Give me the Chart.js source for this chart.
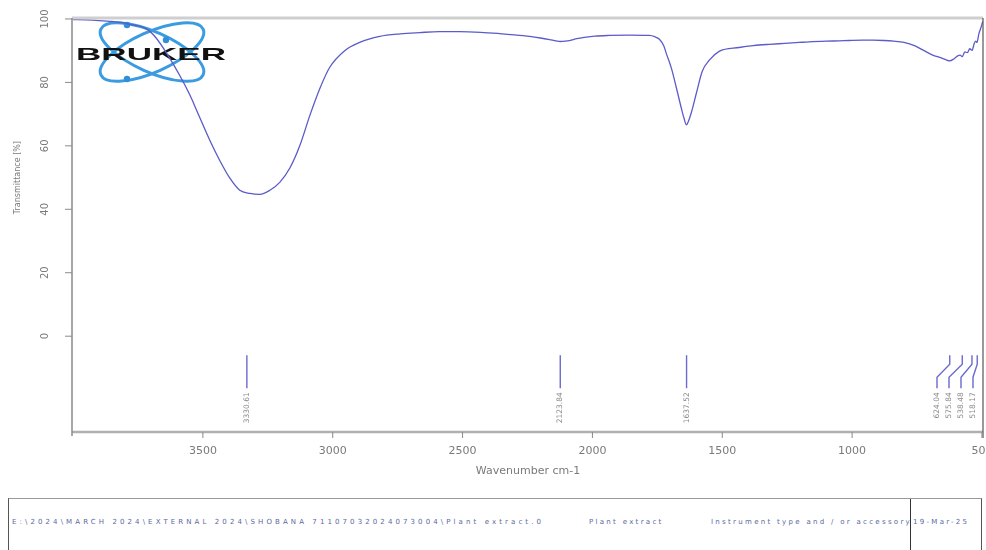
<!DOCTYPE html>
<html>
<head>
<meta charset="utf-8">
<script src="https://cdn.jsdelivr.net/npm/chart.js@4"></script>
<style>
  html, body { margin: 0; padding: 0; background: #fff; }
  #wrap { position: relative; width: 986px; height: 550px; overflow: hidden; }
  #chart { position: absolute; left: 0; top: 0; }
  #footer {
    position: absolute; left: 8px; top: 498px; width: 974px; height: 60px;
    border: 1.5px solid #555; border-top-color: #999; box-sizing: border-box;
  }
  #footer .div { position: absolute; left: 901px; top: 0; bottom: 0; border-left: 1.5px solid #333; }
  #footer span {
    position: absolute; top: 19px; font: 7px "DejaVu Sans", sans-serif;
    letter-spacing: 2.3px; color: #5a68a0; white-space: nowrap;
  }
  #footer span.path { letter-spacing: 3.1px; }
</style>
</head>
<body>
<div id="wrap">
  <canvas id="chart" width="986" height="490"></canvas>
  <div id="footer">
    <div class="div"></div>
    <span class="path" style="left:3px">E:\2024\MARCH 2024\EXTERNAL 2024\SHOBANA 71107032024073004\Plant extract.0</span>
    <span style="left:580px">Plant extract</span>
    <span style="left:702px">Instrument type and / or accessory</span>
    <span style="left:904px">19-Mar-25</span>
  </div>
</div>
<script>
// spectrum
const wavenumbers = [4000, 3950, 3900, 3850, 3800, 3781, 3750, 3715, 3680, 3638, 3588, 3550, 3523, 3473, 3435,
  3396, 3358, 3319, 3281, 3242, 3204, 3165, 3127, 3088, 3050, 3012, 2954, 2896, 2819, 2740, 2665, 2590, 2512,
  2430, 2358, 2300, 2242, 2200, 2165, 2140, 2124, 2105, 2088, 2060, 2031, 1990, 1935, 1860, 1781, 1760, 1742,
  1725, 1715, 1696, 1677, 1658, 1647, 1638, 1630, 1619, 1600, 1577, 1550, 1512, 1435, 1380, 1319, 1260, 1204,
  1165, 1100, 1050, 1012, 960, 920, 877, 840, 800, 760, 723, 690, 660, 640, 624, 610, 595, 584, 576, 566, 556,
  547, 538, 530, 524, 519, 512, 505, 497];
const transmittance = [99.8, 99.7, 99.5, 99.2, 98.7, 98.3, 97.8, 96.8, 94.0, 89.0, 82.0, 76.0, 71.0, 61.7, 55.4,
  49.8, 46.0, 45.0, 44.7, 46.0, 48.5, 53.0, 60.0, 69.6, 78.0, 84.7, 90.0, 92.6, 94.5, 95.3, 95.7, 96.0, 96.0,
  95.8, 95.4, 95.0, 94.5, 94.0, 93.5, 93.1, 92.9, 93.0, 93.2, 93.8, 94.2, 94.6, 94.8, 94.9, 94.8, 94.4, 93.6,
  91.5, 89.0, 84.5, 78.4, 72.0, 68.6, 66.6, 67.8, 70.5, 76.5, 83.5, 87.0, 89.8, 91.0, 91.6, 92.0, 92.3, 92.6,
  92.8, 93.0, 93.1, 93.2, 93.3, 93.3, 93.2, 93.0, 92.6, 91.6, 90.0, 88.6, 87.8, 87.2, 86.8, 87.3, 88.3, 88.6,
  88.1, 89.6, 89.4, 90.6, 90.1, 92.2, 93.0, 92.6, 95.3, 97.0, 99.2];

const xTicks = [3500, 3000, 2500, 2000, 1500, 1000, 500];
const yTicks = [0, 20, 40, 60, 80, 100];
const peaks = [3330.61, 2123.84, 1637.52, 624.04, 575.84, 538.48, 518.17];

const xTitle = "Wavenumber cm-1";
const yTitle = "Transmittance [%]";

const lineColor = "#5b5bc9";
const axisGrey = "#8a8a8a";
const textGrey = "#7a7a7a";

const drawLogo = {
    id: "logo",
    beforeDatasetsDraw(chart) {
        const ctx = chart.ctx;
        ctx.save();
        ctx.strokeStyle = "#3b9be0";
        ctx.lineWidth = 3;
        ctx.beginPath();
        ctx.ellipse(152, 52, 56, 20, 0.42, 0, Math.PI * 2);
        ctx.stroke();
        ctx.beginPath();
        ctx.ellipse(152, 52, 56, 20, -0.42, 0, Math.PI * 2);
        ctx.stroke();
        ctx.fillStyle = "#2f8fd8";
        [[127, 25], [127, 79], [166, 40]].forEach(([x, y]) => {
            ctx.beginPath();
            ctx.arc(x, y, 3.2, 0, Math.PI * 2);
            ctx.fill();
        });
        ctx.font = "bold 17px 'Liberation Sans', sans-serif";
        const w = ctx.measureText("BRUKER").width;
        ctx.translate(76, 60);
        ctx.scale(150 / w, 1);
        ctx.fillStyle = "#111";
        ctx.textBaseline = "alphabetic";
        ctx.fillText("BRUKER", 0, 0);
        ctx.restore();
    },
};

const drawAxes = {
    id: "axes",
    afterDraw(chart) {
        const ctx = chart.ctx;
        const area = chart.chartArea;
        const xs = chart.scales.x;
        const ys = chart.scales.y;
        ctx.save();

        // frame
        ctx.strokeStyle = "#cfcfcf";
        ctx.lineWidth = 3;
        ctx.beginPath();
        ctx.moveTo(area.left, area.top);
        ctx.lineTo(area.right, area.top);
        ctx.stroke();
        ctx.strokeStyle = "#b0b0b0";
        ctx.lineWidth = 2.5;
        ctx.beginPath();
        ctx.moveTo(area.left, area.bottom);
        ctx.lineTo(area.right, area.bottom);
        ctx.stroke();
        ctx.strokeStyle = axisGrey;
        ctx.lineWidth = 1.5;
        ctx.beginPath();
        ctx.moveTo(area.left, area.top);
        ctx.lineTo(area.left, area.bottom + 4);
        ctx.stroke();
        ctx.strokeStyle = "#555";
        ctx.lineWidth = 1.2;
        ctx.beginPath();
        ctx.moveTo(area.right, area.top);
        ctx.lineTo(area.right, area.bottom + 6);
        ctx.stroke();

        // x ticks
        ctx.strokeStyle = axisGrey;
        ctx.lineWidth = 1;
        ctx.fillStyle = textGrey;
        ctx.font = "11px 'DejaVu Sans', sans-serif";
        ctx.textAlign = "center";
        ctx.textBaseline = "middle";
        xTicks.forEach((v) => {
            const px = xs.getPixelForValue(v);
            ctx.beginPath();
            ctx.moveTo(px, area.bottom);
            ctx.lineTo(px, area.bottom + 6);
            ctx.stroke();
            ctx.fillText(String(v), px, 451);
        });
        ctx.fillText(xTitle, 528, 471);

        // y ticks, rotated labels
        yTicks.forEach((v) => {
            const py = ys.getPixelForValue(v);
            ctx.beginPath();
            ctx.moveTo(area.left - 7, py);
            ctx.lineTo(area.left, py);
            ctx.stroke();
            ctx.save();
            ctx.translate(45, py);
            ctx.rotate(-Math.PI / 2);
            ctx.font = "10px 'DejaVu Sans', sans-serif";
            ctx.fillText(String(v), 0, 0);
            ctx.restore();
        });
        ctx.save();
        ctx.translate(18, (ys.getPixelForValue(0) + ys.getPixelForValue(100)) / 2);
        ctx.rotate(-Math.PI / 2);
        ctx.font = "8px 'DejaVu Sans', sans-serif";
        ctx.fillText(yTitle, 0, 0);
        ctx.restore();

        // peak markers
        const top = ys.getPixelForValue(-6);
        const bottom = ys.getPixelForValue(-16.4);
        const pxs = peaks.map((p) => xs.getPixelForValue(p));
        const lx = pxs.slice();
        for (let i = pxs.length - 1; i >= 0; i--) {
            let want = Math.min(pxs[i], area.right - 10);
            if (i < pxs.length - 1 && lx[i + 1] - want < 12) want = lx[i + 1] - 12;
            lx[i] = want;
        }
        ctx.strokeStyle = "#6a6ad0";
        ctx.lineWidth = 1.4;
        pxs.forEach((px, i) => {
            ctx.beginPath();
            if (Math.abs(px - lx[i]) < 0.5) {
                ctx.moveTo(px, top);
                ctx.lineTo(px, bottom);
            } else {
                ctx.moveTo(px, top);
                ctx.lineTo(px, top + 9);
                ctx.lineTo(lx[i], top + 22);
                ctx.lineTo(lx[i], bottom);
            }
            ctx.stroke();
            ctx.save();
            ctx.translate(lx[i], bottom + 4);
            ctx.rotate(-Math.PI / 2);
            ctx.fillStyle = "#8a8a8a";
            ctx.font = "7.5px 'DejaVu Sans', sans-serif";
            ctx.textAlign = "right";
            ctx.textBaseline = "middle";
            ctx.fillText(peaks[i].toFixed(2), 0, 0);
            ctx.restore();
        });

        ctx.restore();
    },
};

const ctx = document.getElementById("chart").getContext("2d");
new Chart(ctx, {
    type: "line",
    data: {
        datasets: [
            {
                data: wavenumbers.map((w, i) => ({ x: w, y: transmittance[i] })),
                borderColor: lineColor,
                borderWidth: 1.3,
                pointRadius: 0,
                cubicInterpolationMode: "monotone",
                fill: false,
            },
        ],
    },
    options: {
        responsive: false,
        animation: false,
        layout: { padding: { left: 72, right: 3, top: 18, bottom: 58 } },
        plugins: { legend: { display: false }, tooltip: { enabled: false } },
        scales: {
            x: { type: "linear", reverse: true, min: 496, max: 4004, display: false },
            y: { min: -30.2, max: 100.3, display: false },
        },
    },
    plugins: [drawLogo, drawAxes],
});
</script>
</body>
</html>
